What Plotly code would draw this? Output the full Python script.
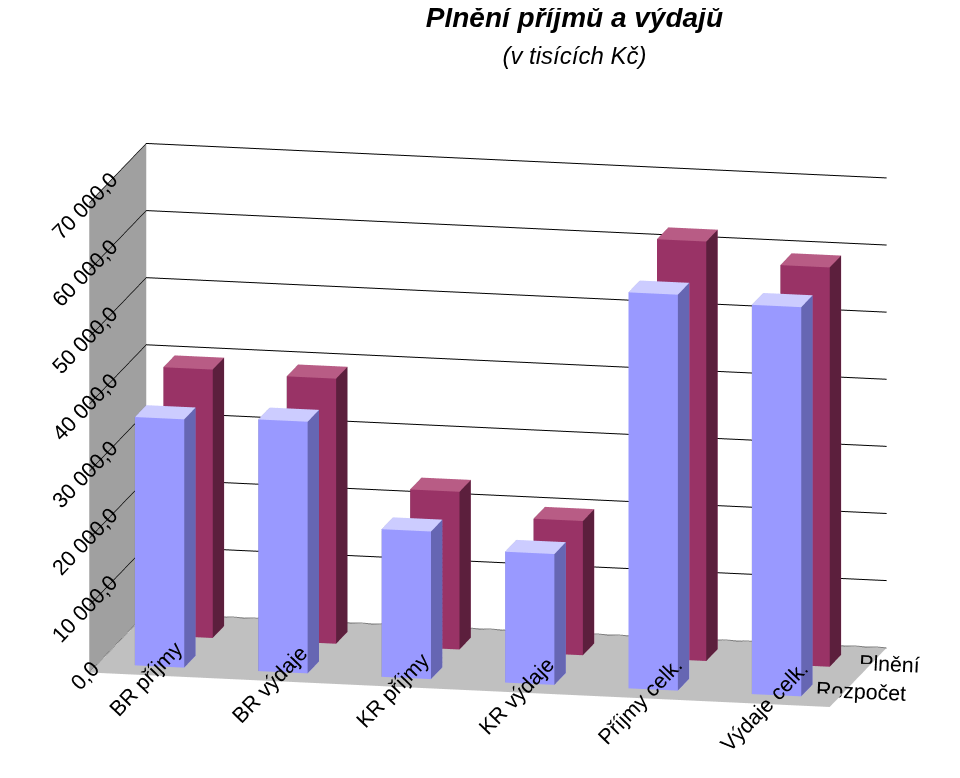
import plotly.graph_objects as go

categories = ["BR příjmy", "BR výdaje", "KR příjmy", "KR výdaje", "Příjmy celk.", "Výdaje celk."]
series_names = ["Rozpočet", "Plnění"]
rozpocet = [37000, 37500, 22000, 19500, 59000, 58000]
plneni = [40000, 39500, 23500, 20000, 62500, 59500]
series_values = [rozpocet, plneni]
series_colors = [("#9999FF", "#CCCCFF", "#6666B3"), ("#993366", "#B85C85", "#5C1F3D")]
zticks = [0, 10000, 20000, 30000, 40000, 50000, 60000, 70000]
zticktext = ["0,0", "10 000,0", "20 000,0", "30 000,0", "40 000,0", "50 000,0", "60 000,0", "70 000,0"]

def boxes(vals, yc, colors):
    X, Y, Z, I, J, K, FC = [], [], [], [], [], [], []
    w, d = 0.2, 0.2
    front, top, side = colors
    for xi, v in enumerate(vals):
        b = len(X)
        for dz in (0, v):
            for (dx, dy) in [(-w, -d), (w, -d), (w, d), (-w, d)]:
                X.append(xi + dx); Y.append(yc + dy); Z.append(dz)
        faces = [
            ((0, 1, 5), front), ((0, 5, 4), front),
            ((1, 2, 6), side), ((1, 6, 5), side),
            ((2, 3, 7), front), ((2, 7, 6), front),
            ((3, 0, 4), side), ((3, 4, 7), side),
            ((4, 5, 6), top), ((4, 6, 7), top),
            ((0, 1, 2), front), ((0, 2, 3), front),
        ]
        for (a, bb, c), col in faces:
            I.append(b + a); J.append(b + bb); K.append(b + c); FC.append(col)
    return go.Mesh3d(x=X, y=Y, z=Z, i=I, j=J, k=K, facecolor=FC, flatshading=True,
                     lighting=dict(ambient=1, diffuse=0, specular=0), hoverinfo="skip")

fig = go.Figure()
for si, vals in enumerate(series_values):
    fig.add_trace(boxes(vals, si, series_colors[si]))

fig.update_layout(
    width=960, height=778, paper_bgcolor="white", showlegend=False,
    margin=dict(l=0, r=0, t=90, b=0),
    title=dict(text="<b><i>Plnění příjmů a výdajů</i></b><br><i><span style='font-size:24px'>(v tisících Kč)</span></i>",
               x=0.59, y=0.975, yanchor="top", font=dict(family="Liberation Sans, Arial", size=28, color="black")),
    scene=dict(
        domain=dict(x=[0, 1], y=[0, 1]),
        xaxis=dict(title="", tickvals=list(range(6)), ticktext=categories, range=[-0.5, 5.5],
                   showbackground=True, backgroundcolor="#A0A0A0", showgrid=False, zeroline=False,
                   tickfont=dict(family="Liberation Sans, Arial", size=16, color="black"), showspikes=False),
        yaxis=dict(title="", tickvals=[0, 1], ticktext=series_names, range=[-0.5, 1.5],
                   showbackground=True, backgroundcolor="white", showgrid=False, zeroline=False,
                   tickfont=dict(family="Liberation Sans, Arial", size=16, color="black"), showspikes=False),
        zaxis=dict(title="", tickvals=zticks, ticktext=zticktext, range=[0, 70000],
                   showbackground=True, backgroundcolor="#C0C0C0", gridcolor="black",
                   tickfont=dict(family="Liberation Sans, Arial", size=16, color="black"), showspikes=False),
        aspectmode="manual", aspectratio=dict(x=2.2, y=0.8, z=1.4),
        camera=dict(eye=dict(x=0.55, y=-2.6, z=0.55), center=dict(x=0, y=0, z=-0.05),
                    projection=dict(type="orthographic")),
    ),
)
fig.write_html("out.html")
